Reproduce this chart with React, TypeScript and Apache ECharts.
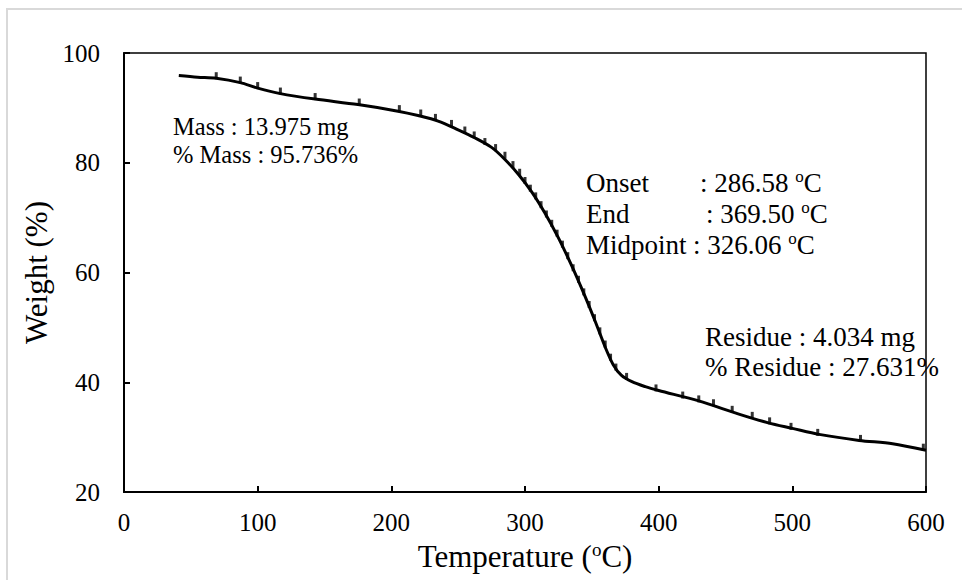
import React, { useEffect, useRef } from "react";
import * as echarts from "echarts";

// Thermogravimetric curve (temperature °C, weight %)
const tempC = [41, 55, 69, 87, 100, 117, 143, 175, 205, 220, 235, 250, 262, 275, 285, 295, 305, 315, 325, 335, 345, 353, 360, 366, 372, 380, 390, 400, 430, 460, 482, 500, 520, 550, 575, 600];
const weightPct = [95.9, 95.6, 95.4, 94.6, 93.6, 92.6, 91.6, 90.6, 89.4, 88.6, 87.6, 86.0, 84.6, 82.8, 80.6, 77.9, 74.7, 70.8, 66.3, 61.2, 55.6, 50.8, 46.4, 43.2, 41.3, 40.1, 39.2, 38.5, 36.6, 34.2, 32.6, 31.6, 30.5, 29.4, 28.8, 27.6];

// Small marker dashes along the curve
const markerT = [69, 87, 100, 117, 143, 176, 206, 222, 233, 245, 255, 262, 270, 278, 285, 291, 296, 300, 304, 308, 312, 316, 320, 324, 328, 332, 336, 340, 344, 348, 352, 356, 360, 364, 368, 376, 398, 418, 430, 441, 455, 470, 483, 499, 519, 551, 598];
const markerW = [95.5, 94.7, 93.7, 92.7, 91.7, 90.7, 89.5, 88.7, 87.9, 86.8, 85.6, 84.7, 83.5, 82.4, 81.0, 79.3, 77.9, 76.4, 75.0, 73.6, 72.0, 70.3, 68.6, 66.8, 64.8, 62.7, 60.5, 58.4, 56.1, 53.8, 51.4, 49.0, 46.6, 44.2, 42.4, 40.7, 38.6, 37.3, 36.6, 35.9, 34.7, 33.6, 32.6, 31.6, 30.5, 29.4, 27.8];

const xTicks = { min: 0, max: 600, interval: 100 };
const yTicks = { min: 20, max: 100, interval: 20 };

const FONT = "'Liberation Serif', 'Times New Roman', serif";

export default function App() {
  const ref = useRef<HTMLDivElement>(null);
  useEffect(() => {
    if (!ref.current) return;
    const chart = echarts.init(ref.current, null, { renderer: "svg" });
    const txt = (x: number, y: number, text: string, size: number, rich?: any) => ({
      type: "text",
      x,
      y,
      style: {
        text,
        fill: "#000",
        fontFamily: FONT,
        fontSize: size,
        align: "left",
        verticalAlign: "middle",
        rich,
      },
    });
    const supRich = {
      v: { fontSize: 27, fontFamily: FONT, color: "#000", lineHeight: 30 },
      s: { fontSize: 17, fontFamily: FONT, color: "#000", verticalAlign: "top", lineHeight: 30, padding: [0, 0, 7, 0] },
    };
    chart.setOption({
      animation: false,
      backgroundColor: "#fff",
      grid: {
        left: 124,
        top: 53,
        right: 36,
        bottom: 88,
        show: true,
        borderColor: "#000",
        borderWidth: 1.5,
      },
      xAxis: {
        type: "value",
        ...xTicks,
        name: "{a|Temperature (}{s|o}{a|C)}",
        nameLocation: "middle",
        nameGap: 47,
        nameTextStyle: {
          rich: {
            a: { fontSize: 31, fontFamily: FONT, color: "#000", lineHeight: 34 },
            s: { fontSize: 19, fontFamily: FONT, color: "#000", verticalAlign: "top", lineHeight: 34, padding: [0, 0, 8, 0] },
          },
        },
        axisLine: { show: true, lineStyle: { color: "#000", width: 2 } },
        axisTick: { show: true, inside: true, length: 6, lineStyle: { color: "#000", width: 2 } },
        splitLine: { show: false },
        axisLabel: { fontSize: 25, fontFamily: FONT, color: "#000", margin: 18 },
      },
      yAxis: {
        type: "value",
        ...yTicks,
        name: "Weight (%)",
        nameLocation: "middle",
        nameGap: 68,
        nameTextStyle: { fontSize: 31, fontFamily: FONT, color: "#000" },
        axisLine: { show: true, lineStyle: { color: "#000", width: 2 } },
        axisTick: { show: true, inside: true, length: 6, lineStyle: { color: "#000", width: 2 } },
        splitLine: { show: false },
        axisLabel: { fontSize: 25, fontFamily: FONT, color: "#000", margin: 24 },
      },
      series: [
        {
          type: "line",
          data: tempC.map((t, i) => [t, weightPct[i]]),
          smooth: 0.3,
          showSymbol: false,
          lineStyle: { color: "#000", width: 3 },
          z: 2,
        },
        {
          type: "scatter",
          data: markerT.map((t, i) => [t, markerW[i]]),
          symbol: "rect",
          symbolSize: [3, 7],
          symbolOffset: [0, -2],
          itemStyle: { color: "#000" },
          z: 3,
        },
      ],
      graphic: [
        {
          type: "rect",
          shape: { x: 7, y: 9, width: 1000, height: 600 },
          style: { fill: "none", stroke: "#d9d9d9", lineWidth: 2 },
          silent: true,
        },
        txt(173, 126, "Mass : 13.975 mg", 24.5),
        txt(173, 154, "% Mass : 95.736%", 24.5),
        txt(586, 183, "Onset", 27),
        txt(586, 214, "End", 27),
        txt(586, 245, "Midpoint", 27),
        txt(700, 183, "{v|: 286.58 }{s|o}{v|C}", 27, supRich),
        txt(706, 214, "{v|: 369.50 }{s|o}{v|C}", 27, supRich),
        txt(693, 245, "{v|: 326.06 }{s|o}{v|C}", 27, supRich),
        txt(705, 337, "Residue : 4.034 mg", 27),
        txt(705, 367, "% Residue : 27.631%", 27),
      ],
    });
    return () => chart.dispose();
  }, []);
  return <div ref={ref} style={{ position: "fixed", left: 0, top: 0, width: 962, height: 580 }} />;
}
